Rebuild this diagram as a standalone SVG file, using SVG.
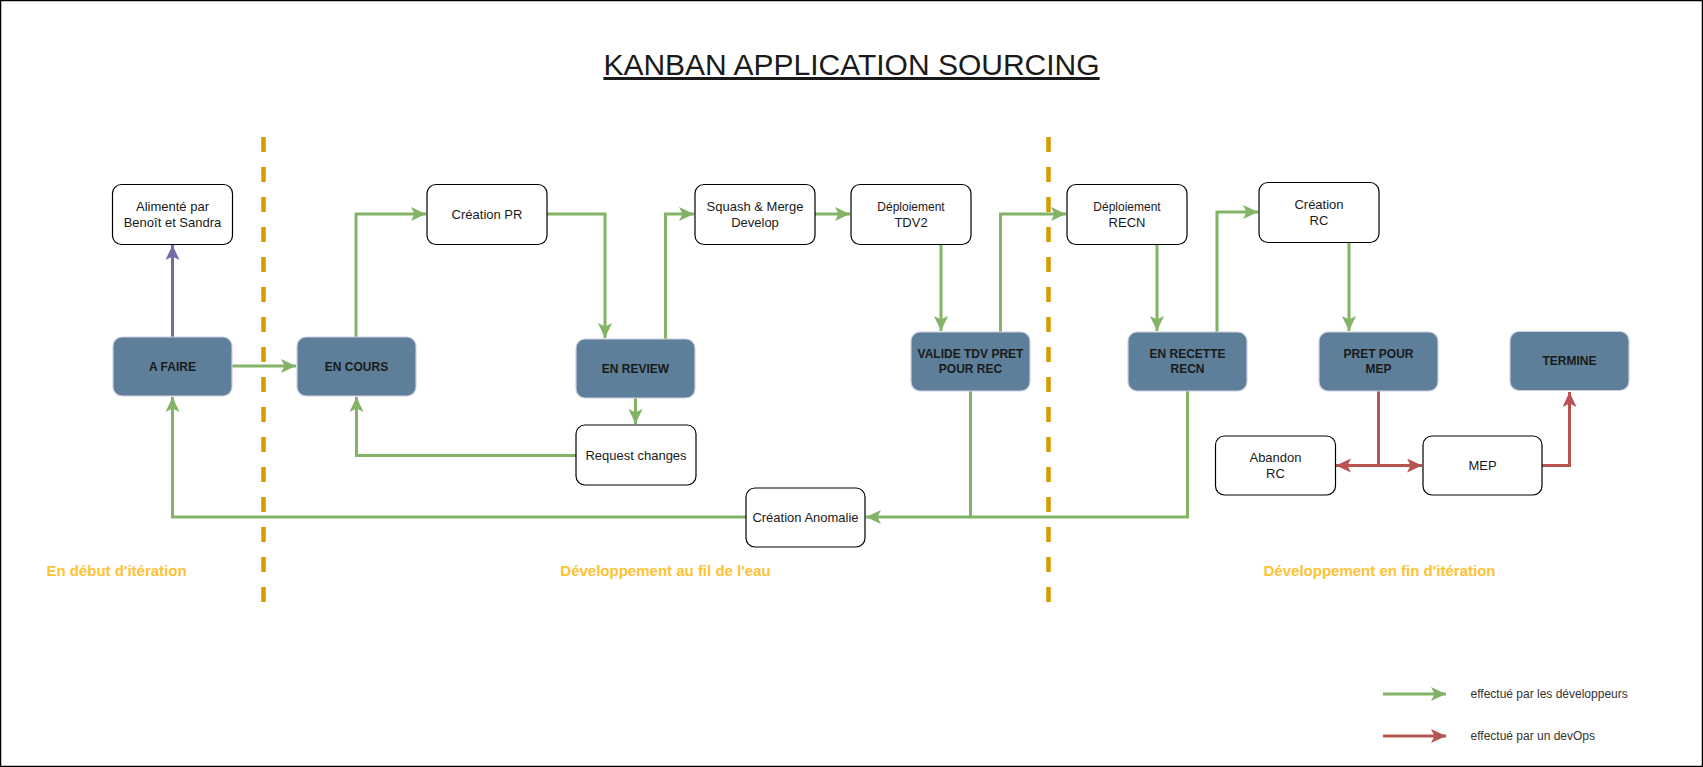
<svg xmlns="http://www.w3.org/2000/svg" width="1703" height="767" viewBox="0 0 1703 767">
<style>
.w{fill:#ffffff;stroke:#000000;stroke-width:1.2}
.d{fill:#5D7F99;stroke:#D0CEE2;stroke-width:1.2}
.t{font-family:"Liberation Sans",Arial,sans-serif;font-size:13px;fill:#1a1a1a;text-anchor:middle}
.s{font-size:12px}
.b{font-family:"Liberation Sans",Arial,sans-serif;font-size:12px;font-weight:bold;fill:#1a1a1a;text-anchor:middle}
.g{fill:none;stroke:#82B366;stroke-width:3}
.r{fill:none;stroke:#B85450;stroke-width:3}
.p{fill:none;stroke:#736CA8;stroke-width:3}
.dash{stroke:#D79B00;stroke-width:4.5;stroke-dasharray:15 15}
.sec{font-family:"Liberation Sans",Arial,sans-serif;font-size:15px;font-weight:bold;fill:#FFC233;text-anchor:middle}
.leg{font-family:"Liberation Sans",Arial,sans-serif;font-size:12px;fill:#333333}
</style>
<defs>
<marker id="ag" markerUnits="userSpaceOnUse" markerWidth="16" markerHeight="15" refX="15" refY="7" orient="auto"><path d="M0,0 L15,7 L0,14 L3.5,7 Z" fill="#82B366"/></marker>
<marker id="ar" markerUnits="userSpaceOnUse" markerWidth="16" markerHeight="15" refX="15" refY="7" orient="auto"><path d="M0,0 L15,7 L0,14 L3.5,7 Z" fill="#B85450"/></marker>
<marker id="ap" markerUnits="userSpaceOnUse" markerWidth="16" markerHeight="15" refX="15" refY="7" orient="auto"><path d="M0,0 L15,7 L0,14 L3.5,7 Z" fill="#736CA8"/></marker>
</defs>
<rect x="0.5" y="0.5" width="1702" height="766" fill="#ffffff" stroke="#000000" stroke-width="1.5"/>
<text x="851.5" y="75" font-family="'Liberation Sans',Arial,sans-serif" font-size="30" fill="#1a1a1a" text-anchor="middle" text-decoration="underline">KANBAN APPLICATION SOURCING</text>
<g id="separators">
<line class="dash" x1="263.5" y1="137" x2="263.5" y2="603"/>
<line class="dash" x1="1048.5" y1="137" x2="1048.5" y2="603"/>
</g>
<g id="connectors">
<path class="p" d="M172.5,337 V245" marker-end="url(#ap)"/>
<path class="g" d="M232,366 H296" marker-end="url(#ag)"/>
<path class="g" d="M356,337 V214 H426" marker-end="url(#ag)"/>
<path class="g" d="M547,214 H605 V338" marker-end="url(#ag)"/>
<path class="g" d="M665.5,339 V214 H694" marker-end="url(#ag)"/>
<path class="g" d="M815,214 H850" marker-end="url(#ag)"/>
<path class="g" d="M941,244 V331" marker-end="url(#ag)"/>
<path class="g" d="M1000.5,332 V214 H1066" marker-end="url(#ag)"/>
<path class="g" d="M1157,244 V331" marker-end="url(#ag)"/>
<path class="g" d="M1217,332 V212 H1258" marker-end="url(#ag)"/>
<path class="g" d="M1349,242 V331" marker-end="url(#ag)"/>
<path class="g" d="M635.5,398 V424" marker-end="url(#ag)"/>
<path class="g" d="M576,455.5 H356.5 V397" marker-end="url(#ag)"/>
<path class="g" d="M746,517 H172.5 V397" marker-end="url(#ag)"/>
<path class="g" d="M970.5,391 V517 H866" marker-end="url(#ag)"/>
<path class="g" d="M1187.5,391 V517 H970.5"/>
<path class="r" d="M1378.5,391 V465.5 H1336" marker-end="url(#ar)"/>
<path class="r" d="M1378.5,465.5 H1422" marker-end="url(#ar)"/>
<path class="r" d="M1542,465.5 H1569.5 V392" marker-end="url(#ar)"/>
</g>
<g id="alimente"><rect class="w" x="112.5" y="184.5" width="120" height="60" rx="9"/><text class="t" x="172.5" y="211">Alimenté par</text><text class="t" x="172.5" y="227">Benoît et Sandra</text></g>
<g id="afaire"><rect class="d" x="113" y="337" width="119" height="59" rx="9"/><text class="b" x="172.5" y="370.5">A FAIRE</text></g>
<g id="encours"><rect class="d" x="297" y="337" width="119" height="59" rx="9"/><text class="b" x="356.5" y="370.5">EN COURS</text></g>
<g id="creationpr"><rect class="w" x="427" y="184.5" width="120" height="60" rx="9"/><text class="t" x="487" y="219">Création PR</text></g>
<g id="enreview"><rect class="d" x="576" y="339" width="119" height="59" rx="9"/><text class="b" x="635.5" y="372.5">EN REVIEW</text></g>
<g id="requestchanges"><rect class="w" x="576" y="425" width="120" height="60" rx="9"/><text class="t" x="636" y="459.5">Request changes</text></g>
<g id="squash"><rect class="w" x="695" y="184.5" width="120" height="60" rx="9"/><text class="t" x="755" y="211">Squash &amp; Merge</text><text class="t" x="755" y="227">Develop</text></g>
<g id="tdv2"><rect class="w" x="851" y="184.5" width="120" height="60" rx="9"/><text class="t s" x="911" y="211">Déploiement</text><text class="t" x="911" y="226.5">TDV2</text></g>
<g id="valide"><rect class="d" x="911" y="332" width="119" height="59" rx="9"/><text class="b" x="970.5" y="357.5">VALIDE TDV PRET</text><text class="b" x="970.5" y="373">POUR REC</text></g>
<g id="anomalie"><rect class="w" x="746" y="488" width="119" height="59" rx="9"/><text class="t" x="805.5" y="522">Création Anomalie</text></g>
<g id="recn"><rect class="w" x="1067" y="184.5" width="120" height="60" rx="9"/><text class="t s" x="1127" y="211">Déploiement</text><text class="t" x="1127" y="226.5">RECN</text></g>
<g id="enrecette"><rect class="d" x="1128" y="332" width="119" height="59" rx="9"/><text class="b" x="1187.5" y="357.5">EN RECETTE</text><text class="b" x="1187.5" y="373">RECN</text></g>
<g id="creationrc"><rect class="w" x="1259" y="182.5" width="120" height="60" rx="9"/><text class="t" x="1319" y="209">Création</text><text class="t" x="1319" y="225">RC</text></g>
<g id="pretpourmep"><rect class="d" x="1319" y="332" width="119" height="59" rx="9"/><text class="b" x="1378.5" y="357.5">PRET POUR</text><text class="b" x="1378.5" y="373">MEP</text></g>
<g id="termine"><rect class="d" x="1510" y="331.5" width="119" height="59" rx="9"/><text class="b" x="1569.5" y="364.5">TERMINE</text></g>
<g id="abandon"><rect class="w" x="1215.5" y="436" width="120" height="59" rx="9"/><text class="t" x="1275.5" y="462">Abandon</text><text class="t" x="1275.5" y="478">RC</text></g>
<g id="mep"><rect class="w" x="1423" y="436" width="119" height="59" rx="9"/><text class="t" x="1482.5" y="470">MEP</text></g>
<g id="sections">
<text class="sec" x="116.5" y="576">En début d'itération</text>
<text class="sec" x="665.5" y="576">Développement au fil de l'eau</text>
<text class="sec" x="1379.5" y="576">Développement en fin d'itération</text>
</g>
<g id="legend">
<path class="g" d="M1383,694 H1446" marker-end="url(#ag)"/>
<path class="r" d="M1383,736 H1446" marker-end="url(#ar)"/>
<text class="leg" x="1470.5" y="698">effectué par les développeurs</text>
<text class="leg" x="1470.5" y="740">effectué par un devOps</text>
</g>
</svg>
